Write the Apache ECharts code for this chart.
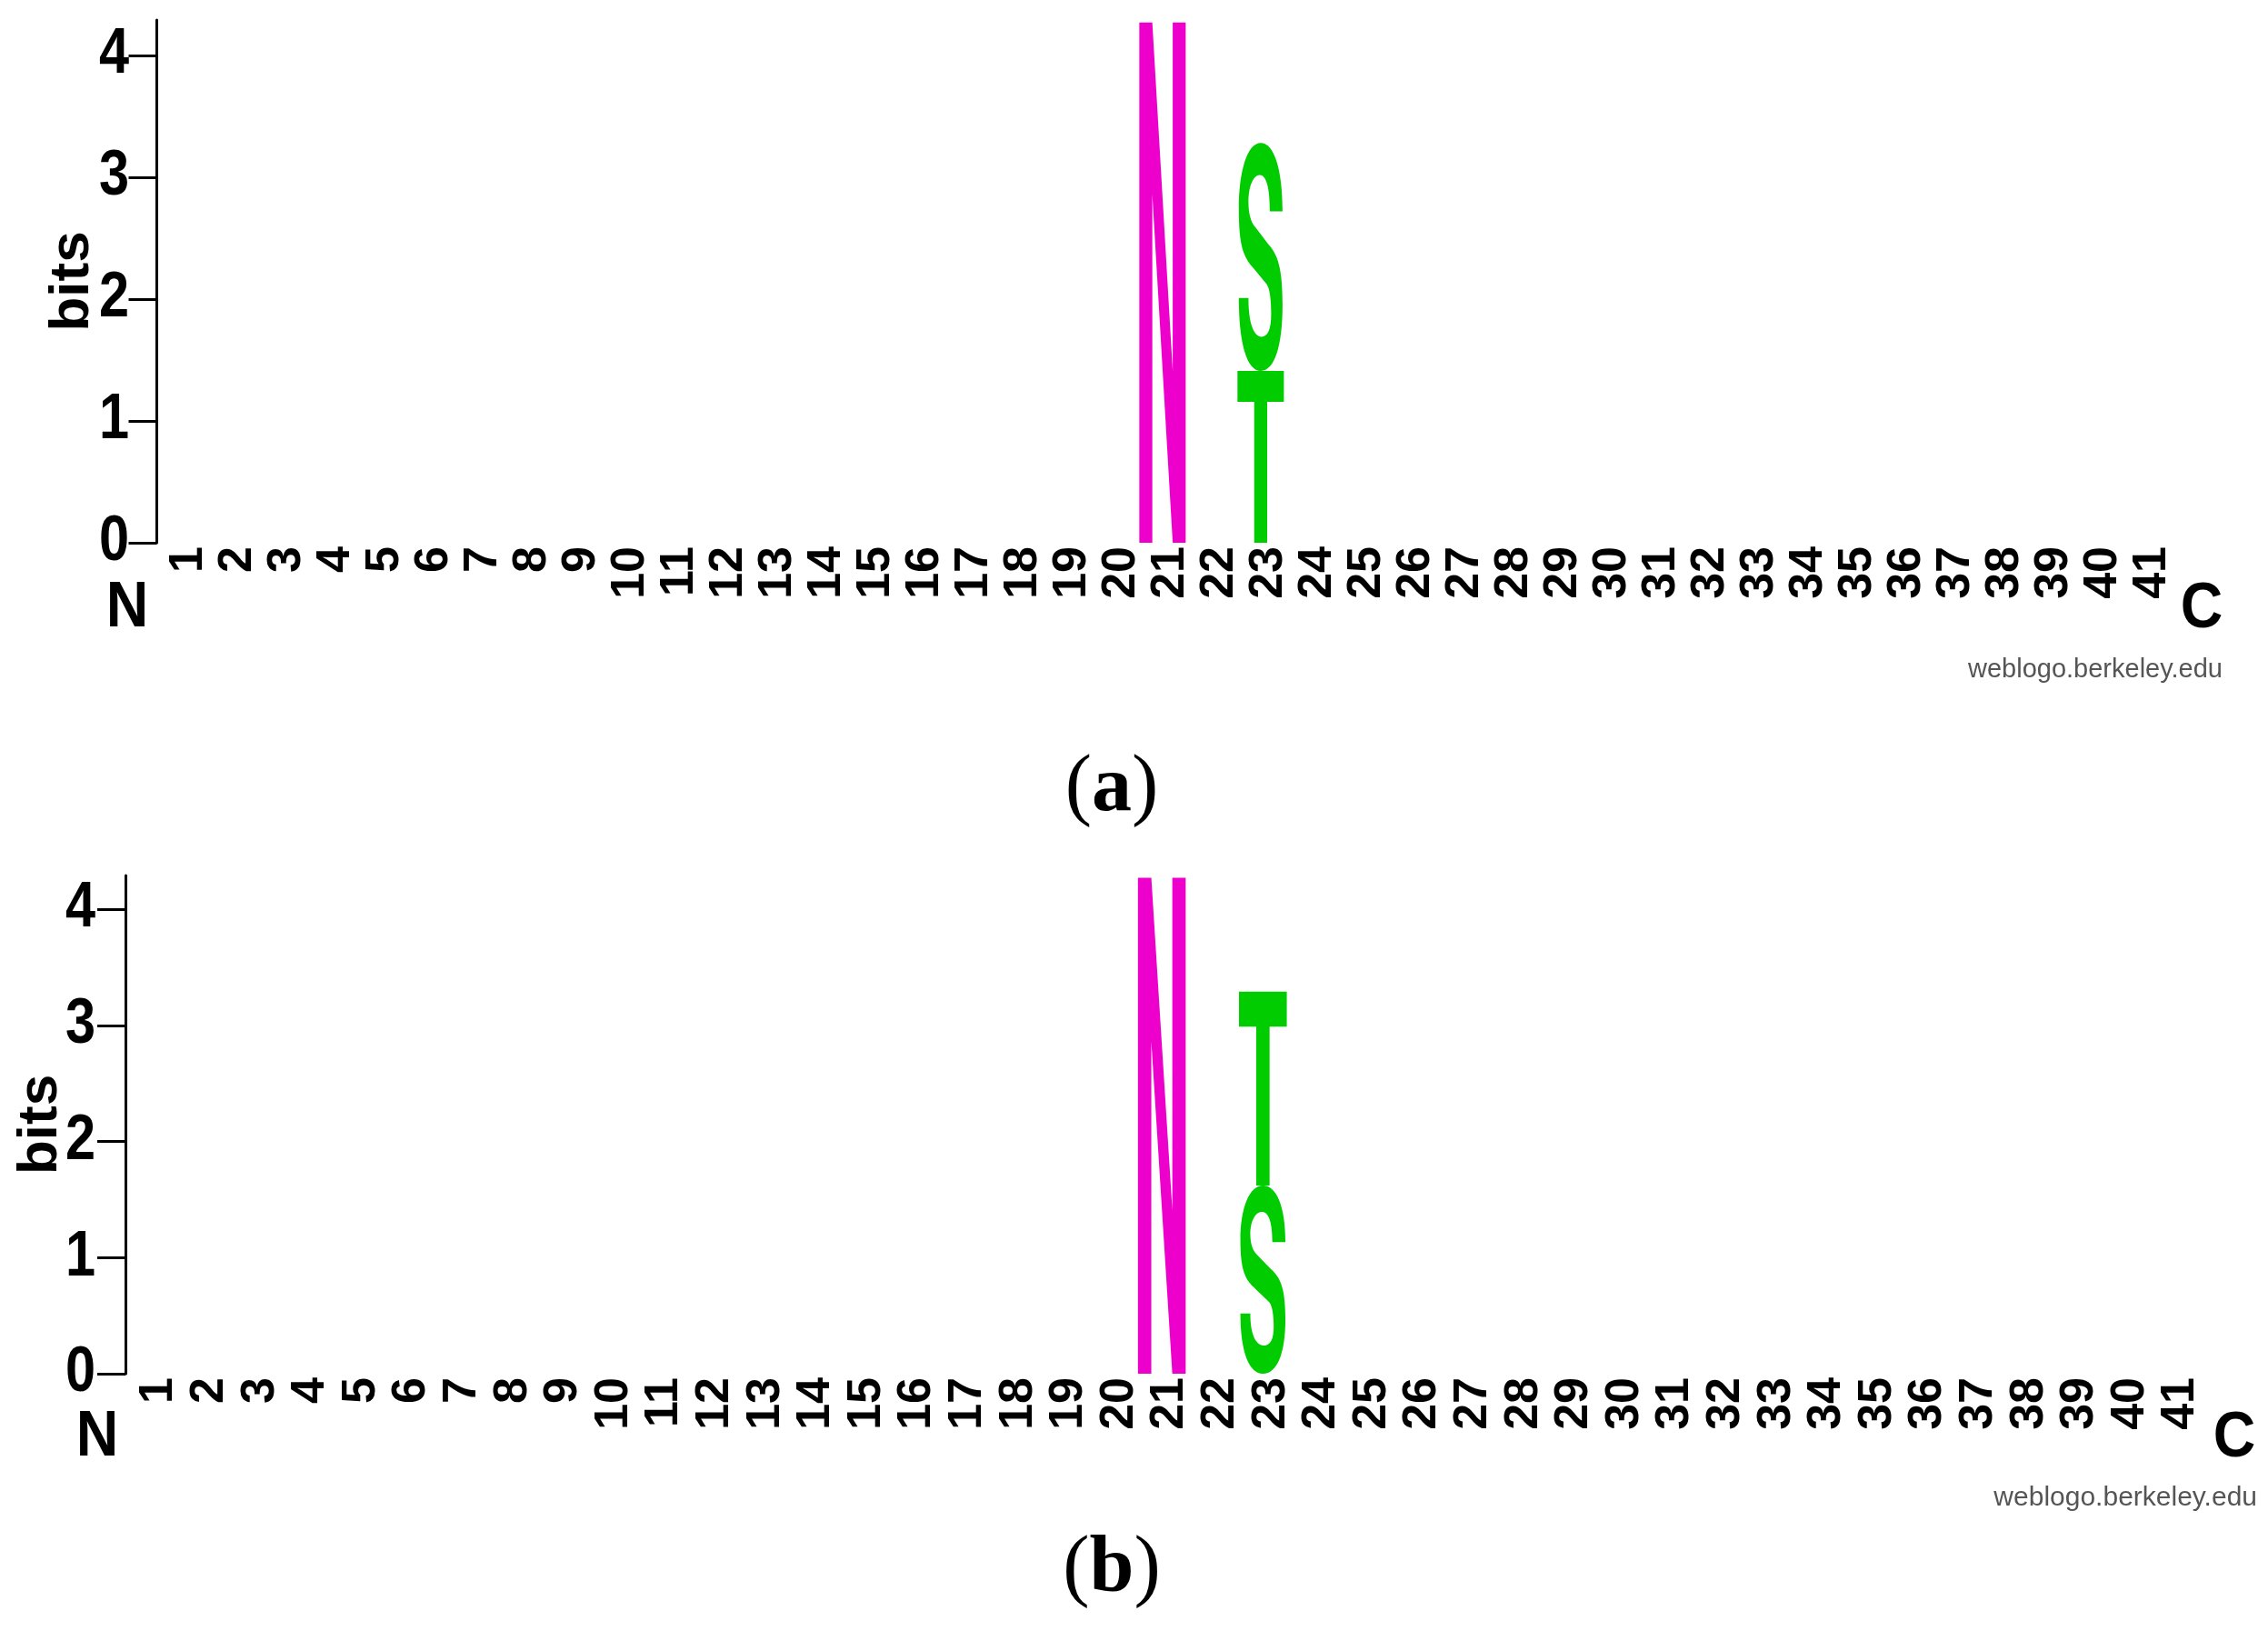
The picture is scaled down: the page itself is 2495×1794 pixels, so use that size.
<!DOCTYPE html>
<html>
<head>
<meta charset="utf-8">
<script src="https://cdn.jsdelivr.net/npm/echarts@6/dist/echarts.min.js"></script>
<style>
  html, body { margin: 0; padding: 0; background: #ffffff; }
  #chart { width: 2495px; height: 1794px; }
</style>
</head>
<body>
<div id="chart"></div>
<script>
// ---------------- data ----------------
const positionLabels = ['1','2','3','4','5','6','7','8','9','10','11','12','13','14','15','16','17','18','19','20',
  '21','22','23','24','25','26','27','28','29','30','31','32','33','34','35','36','37','38','39','40','41'];
const yTickValues = [0, 1, 2, 3, 4];

// panel (a): stacked from bottom to top within each position
const logoA_positions = [21, 23, 23];
const logoA_letters   = ['N', 'T', 'S'];
const logoA_bits      = [4.27, 1.41, 1.87];

// panel (b)
const logoB_positions = [21, 23, 23];
const logoB_letters   = ['N', 'S', 'T'];
const logoB_bits      = [4.27, 1.62, 1.67];

// ---------------- glyph shapes (unit box 0..100) ----------------
const GLYPHS = {
  N: { w: 0.945, color: '#EE00CC',
       d: 'M0,0 L28,0 L72,67 L72,0 L100,0 L100,100 L72,100 L28,33 L28,100 L0,100 Z' },
  T: { w: 0.945, color: '#00CC00',
       d: 'M0,0 L100,0 L100,18 L64,18 L64,100 L36,100 L36,18 L0,18 Z' },
  S: { w: 0.89, color: '#00CC00',
       d: 'M100,30 C100,11 80,0 50,0 C20,0 0,12 0,29 C0,45 10,50 34,55 L64,62 C71,64 74,69 74,75 ' +
          'C74,82 66,85 52,85 C36,85 22,80 22,68 L0,68 C0,89 20,100 50,100 C82,100 100,89 100,71 ' +
          'C100,55 90,49 66,44 L38,37 C28,35 22,31 22,26 C22,19 33,14 48,14 C62,14 71,19 71,30 Z' }
};
const LETTER_SHIFT = 0.16; // letters sit slightly left of the label centre

function stackData(positions, bits) {
  const base = {};
  return positions.map(function (p, i) {
    const b = base[p] || 0;
    base[p] = b + bits[i];
    return [positionLabels.indexOf(String(p)), b, b + bits[i]];
  });
}

function makeRender(letters) {
  return function (params, api) {
    const idx = api.value(0);
    const lo = api.coord([idx, api.value(1)]);
    const hi = api.coord([idx, api.value(2)]);
    const band = api.size([1, 0])[0];
    const g = GLYPHS[letters[params.dataIndex]];
    const w = band * g.w;
    const cx = lo[0] - band * LETTER_SHIFT;
    return {
      type: 'path',
      shape: { pathData: g.d, x: cx - w / 2, y: hi[1], width: w, height: lo[1] - hi[1], layout: 'cover' },
      style: { fill: g.color, stroke: null }
    };
  };
}

const chart = echarts.init(document.getElementById('chart'), null, { renderer: 'canvas' });

// layout
const GRID_A = { left: 180.5, right: 100.5, top: 22, height: 575 };
const GRID_B = { left: 147.2, right: 68.2, top: 963, height: 548 };
const OFFSET_A = 8, OFFSET_B = 9.2;
const LABEL_RIGHT_A = 142, LABEL_RIGHT_B = 105;

function xAxisFor(gridIndex) {
  return {
    type: 'category', gridIndex: gridIndex, data: positionLabels, boundaryGap: true,
    axisLine: { show: false }, axisTick: { show: false }, splitLine: { show: false },
    axisLabel: { rotate: 90, interval: 0, margin: 4, color: '#000',
      fontFamily: 'Liberation Sans, Arial, sans-serif', fontWeight: 'bold', fontSize: 52 }
  };
}
function yAxisFor(gridIndex, offset, nameGap) {
  return {
    type: 'value', gridIndex: gridIndex, min: 0, max: 4.29, offset: offset,
    name: 'bits', nameLocation: 'middle', nameRotate: 90, nameGap: nameGap, nameMoveOverlap: false,
    nameTextStyle: { color: '#000', fontFamily: 'Liberation Sans, Arial, sans-serif', fontWeight: 'bold', fontSize: 62 },
    axisLine: { show: true, lineStyle: { color: '#000', width: 3 } },
    axisTick: { show: true, customValues: yTickValues, length: 31, inside: false, lineStyle: { color: '#000', width: 3 } },
    axisLabel: { show: false },
    splitLine: { show: false }
  };
}

const option = {
  animation: false,
  backgroundColor: '#ffffff',
  grid: [
    Object.assign({ outerBoundsMode: 'none', containLabel: false }, GRID_A),
    Object.assign({ outerBoundsMode: 'none', containLabel: false }, GRID_B)
  ],
  xAxis: [xAxisFor(0), xAxisFor(1)],
  yAxis: [yAxisFor(0, OFFSET_A, 62), yAxisFor(1, OFFSET_B, 62)],
  series: [
    { type: 'custom', xAxisIndex: 0, yAxisIndex: 0, renderItem: makeRender(logoA_letters),
      encode: { x: 0, y: [1, 2] }, data: stackData(logoA_positions, logoA_bits), silent: true },
    { type: 'custom', xAxisIndex: 1, yAxisIndex: 1, renderItem: makeRender(logoB_letters),
      encode: { x: 0, y: [1, 2] }, data: stackData(logoB_positions, logoB_bits), silent: true }
  ]
};
chart.setOption(option);

// condensed y tick labels placed through the axis scale
function yLabelGraphics(yAxisIndex, rightX) {
  return yTickValues.map(function (v) {
    const py = chart.convertToPixel({ yAxisIndex: yAxisIndex }, v);
    return { type: 'text', id: 'ylab' + yAxisIndex + '_' + v, x: rightX, y: py, scaleX: 0.85,
      style: { text: String(v), x: 0, y: 0, align: 'right', verticalAlign: 'middle',
        font: 'bold 70px "Liberation Sans", Arial, sans-serif', fill: '#000' } };
  });
}
function endLabel(id, text, x, y) {
  return { type: 'text', id: id, x: x, y: y, scaleX: 0.92,
    style: { text: text, x: 0, y: 0, align: 'center', verticalAlign: 'middle',
      font: 'bold 70px "Liberation Sans", Arial, sans-serif', fill: '#000' } };
}
function panelTag(id, letter, y) {
  return { type: 'text', id: id, x: 1223, y: y,
    style: { text: '{p|(}{b|' + letter + '}{p|)}', x: 0, y: 0, align: 'center', verticalAlign: 'middle',
      rich: { p: { fontFamily: 'Liberation Serif, Times New Roman, serif', fontSize: 88, fill: '#000' },
              b: { fontFamily: 'Liberation Serif, Times New Roman, serif', fontSize: 88, fontWeight: 'bold', fill: '#000' } } } };
}

const graphics = []
  .concat(yLabelGraphics(0, LABEL_RIGHT_A))
  .concat(yLabelGraphics(1, LABEL_RIGHT_B))
  .concat([
    endLabel('nA', 'N', 140, 670), endLabel('cA', 'C', 2422, 671),
    endLabel('nB', 'N', 107, 1582), endLabel('cB', 'C', 2458, 1583),
    { type: 'text', id: 'wA', x: 2445, y: 737, style: { text: 'weblogo.berkeley.edu', x: 0, y: 0, align: 'right', verticalAlign: 'middle',
      font: '29px "Liberation Sans", Arial, sans-serif', fill: '#555' } },
    { type: 'text', id: 'wB', x: 2483, y: 1648, style: { text: 'weblogo.berkeley.edu', x: 0, y: 0, align: 'right', verticalAlign: 'middle',
      font: '30px "Liberation Sans", Arial, sans-serif', fill: '#555' } },
    panelTag('tagA', 'a', 868), panelTag('tagB', 'b', 1727)
  ]);
chart.setOption({ graphic: graphics });
</script>
</body>
</html>
